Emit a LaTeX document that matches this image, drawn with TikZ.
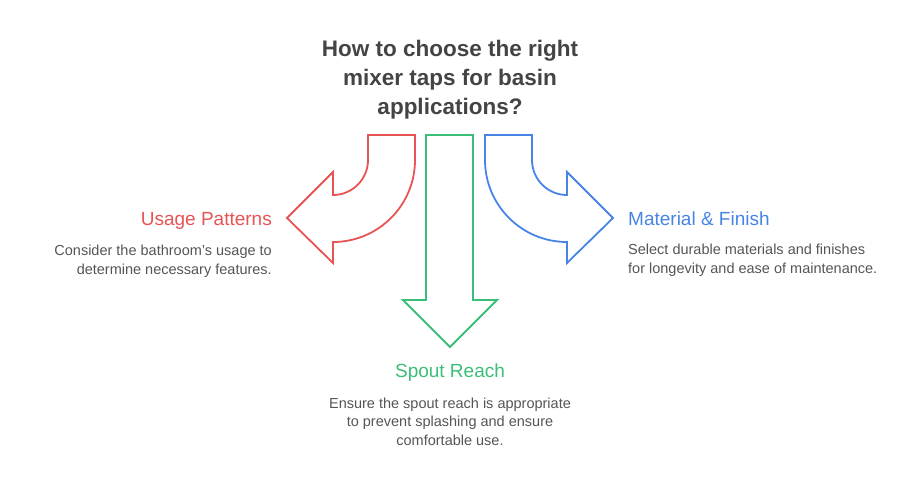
\documentclass[tikz,border=0pt]{standalone}
\usepackage{fontspec}
\setmainfont{Liberation Sans}
\definecolor{usagered}{RGB}{232,84,84}
\definecolor{spoutgreen}{RGB}{58,190,120}
\definecolor{finishblue}{RGB}{72,132,230}
\definecolor{titlegray}{RGB}{68,68,68}
\definecolor{textgray}{RGB}{85,85,85}
\tikzset{
  arrowshape/.style={line width=1.8pt, line join=miter, fill=white},
  headline/.style={font=\fontsize{19}{22}\selectfont, inner sep=0pt},
  note/.style={font=\fontsize{14.5}{18.5}\selectfont, text=textgray, inner sep=0pt}
}
\begin{document}
\begin{tikzpicture}[x=1pt,y=1pt]
      \useasboundingbox (0,0) rectangle (918,483);
      \node[anchor=base, align=center, inner sep=0pt, text=titlegray,
        font=\fontsize{22.5}{29}\selectfont\bfseries] (title) at (450,368)
        {How to choose the right\\mixer taps for basin\\applications?};
      \begin{scope}[arrowshape]
        \draw[usagered] (368,348) -- (415,348) -- (415,323)
          arc[start angle=0, end angle=-90, radius=82]
          -- (333,220) -- (287,265) -- (333,311) -- (333,288)
          arc[start angle=-90, end angle=0, radius=35] -- cycle;
        \draw[spoutgreen] (426,348) -- (473,348) -- (473,183)
          -- (497,183) -- (450,136) -- (403,183) -- (426,183) -- cycle;
        \draw[finishblue] (532,348) -- (485,348) -- (485,323)
          arc[start angle=180, end angle=270, radius=82]
          -- (567,220) -- (613,265) -- (567,311) -- (567,288)
          arc[start angle=270, end angle=180, radius=35] -- cycle;
      \end{scope}
      \node[headline, text=usagered, anchor=base east] (usage) at (272,258) {Usage Patterns};
      \node[note, anchor=base east, align=right] (usagetxt) at (272,209)
        {Consider the bathroom's usage to\\determine necessary features.};
      \node[headline, text=finishblue, anchor=base west] (finish) at (628,258) {Material \& Finish};
      \node[note, anchor=base west, align=left] (finishtxt) at (628,210)
        {Select durable materials and finishes\\for longevity and ease of maintenance.};
      \node[headline, text=spoutgreen, anchor=base] (spout) at (450,106) {Spout Reach};
      \node[note, anchor=base, align=center] (spouttxt) at (450,38)
        {Ensure the spout reach is appropriate\\to prevent splashing and ensure\\comfortable use.};
    \end{tikzpicture}
\end{document}
